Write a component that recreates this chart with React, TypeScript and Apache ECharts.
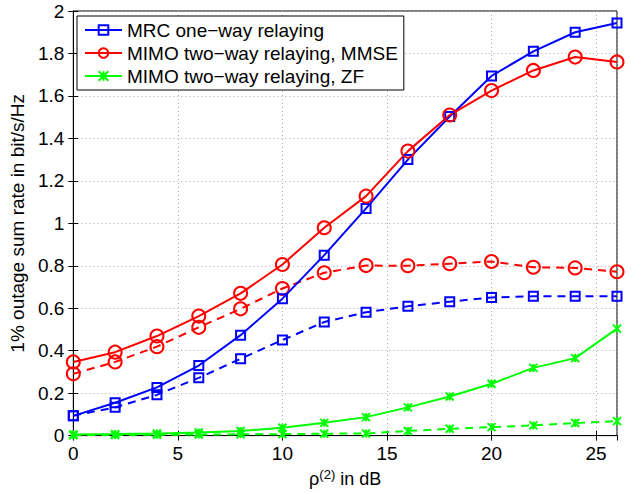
import React, { useEffect, useRef } from "react";
import * as echarts from "echarts";

const snrDb = [0, 2, 4, 6, 8, 10, 12, 14, 16, 18, 20, 22, 24, 26];
const mrcSolid = [0.093, 0.155, 0.227, 0.33, 0.473, 0.645, 0.85, 1.07, 1.3, 1.503, 1.694, 1.81, 1.9, 1.943];
const mrcDashed = [0.094, 0.133, 0.192, 0.272, 0.362, 0.45, 0.535, 0.581, 0.609, 0.631, 0.651, 0.656, 0.656, 0.656];
const mmseSolid = [0.347, 0.393, 0.469, 0.563, 0.67, 0.806, 0.979, 1.128, 1.34, 1.51, 1.625, 1.72, 1.783, 1.76];
const mmseDashed = [0.291, 0.347, 0.419, 0.51, 0.597, 0.693, 0.767, 0.801, 0.8, 0.81, 0.82, 0.793, 0.79, 0.772];
const zfSolid = [0.005, 0.007, 0.01, 0.015, 0.022, 0.037, 0.06, 0.087, 0.133, 0.184, 0.244, 0.319, 0.365, 0.504];
const zfDashed = [0.002, 0.003, 0.004, 0.005, 0.006, 0.007, 0.009, 0.01, 0.022, 0.032, 0.04, 0.048, 0.059, 0.068];
const legendNames = [
  "MRC one\u2212way relaying",
  "MIMO two\u2212way relaying, MMSE",
  "MIMO two\u2212way relaying, ZF",
];

const FONT = "'Liberation Sans', Arial, Helvetica, sans-serif";
const BLUE = "#0000ff";
const RED = "#ff0000";
const GREEN = "#00ff00";
const X_SYMBOL = "path://M0,0L10,10M10,0L0,10M5,0L5,10";

function pairs(xs: number[], ys: number[]) {
  return xs.map((x, i) => [x, ys[i]]);
}

function makeSeries(name: string, data: number[], color: string, symbol: string, size: number, dashed: boolean) {
  return {
    name,
    type: "line",
    data: pairs(snrDb, data),
    symbol,
    symbolSize: size,
    showSymbol: true,
    lineStyle: { color, width: 2, type: dashed ? [8, 6] : "solid" },
    itemStyle: { color: "rgba(0,0,0,0)", borderColor: color, borderWidth: 2 },
    emphasis: { disabled: true },
    z: dashed ? 2 : 3,
  };
}

export default function App() {
  const ref = useRef<HTMLDivElement>(null);
  useEffect(() => {
    if (!ref.current) return;
    const chart = echarts.init(ref.current, undefined, { renderer: "svg" });
    const axisLine = { show: true, lineStyle: { color: "#000", width: 1 } };
    const tick = { show: true, inside: true, length: 5, lineStyle: { color: "#000" } };
    chart.setOption({
      animation: false,
      backgroundColor: "#fff",
      textStyle: { fontFamily: FONT },
      grid: { left: 70, right: 15, top: 11, bottom: 51, show: true, borderColor: "#000", borderWidth: 1 },
      legend: {
        data: legendNames,
        orient: "vertical",
        left: 77,
        top: 16,
        backgroundColor: "#fff",
        borderColor: "#000",
        borderWidth: 1,
        borderRadius: 0,
        padding: [3, 6, 3, 7],
        itemWidth: 37,
        itemHeight: 12,
        itemGap: 1,
        textStyle: { fontFamily: FONT, fontSize: 19, color: "#000", lineHeight: 22 },
        selectedMode: false,
      },
      xAxis: [
        {
          type: "value",
          min: 0,
          max: 26,
          interval: 5,
          position: "bottom",
          axisLine,
          axisTick: tick,
          axisLabel: { fontSize: 19, color: "#000", margin: 8, fontFamily: FONT, showMaxLabel: false },
          splitLine: { show: true, lineStyle: { color: "#aaa", type: [1, 3], width: 1 } },
          name: "{a|\u03c1}{s|(2)}{a| in dB}",
          nameLocation: "middle",
          nameGap: 30,
          nameTextStyle: {
            rich: {
              a: { fontSize: 18, fontFamily: FONT, color: "#000" },
              s: { fontSize: 13, fontFamily: FONT, color: "#000", verticalAlign: "bottom", padding: [0, 0, 10, 0] },
            },
          },
        },
        {
          type: "value",
          min: 0,
          max: 26,
          interval: 5,
          position: "top",
          axisLine,
          axisTick: tick,
          axisLabel: { show: false },
          splitLine: { show: false },
        },
      ],
      yAxis: [
        {
          type: "value",
          min: 0,
          max: 2,
          interval: 0.2,
          position: "left",
          axisLine,
          axisTick: tick,
          axisLabel: {
            fontSize: 19,
            color: "#000",
            margin: 9,
            fontFamily: FONT,
            formatter: (v: number) => String(Math.round(v * 10) / 10),
          },
          splitLine: { show: true, lineStyle: { color: "#aaa", type: [1, 3], width: 1 } },
          name: "1% outage sum rate in bit/s/Hz",
          nameLocation: "middle",
          nameGap: 36,
          nameTextStyle: { fontSize: 19, color: "#000", fontFamily: FONT },
        },
        {
          type: "value",
          min: 0,
          max: 2,
          interval: 0.2,
          position: "right",
          axisLine,
          axisTick: tick,
          axisLabel: { show: false },
          splitLine: { show: false },
        },
      ],
      series: [
        makeSeries(legendNames[0], mrcSolid, BLUE, "rect", 9, false),
        makeSeries(legendNames[1], mmseSolid, RED, "circle", 13, false),
        makeSeries(legendNames[2], zfSolid, GREEN, X_SYMBOL, 8, false),
        makeSeries("MRC dashed", mrcDashed, BLUE, "rect", 9, true),
        makeSeries("MMSE dashed", mmseDashed, RED, "circle", 13, true),
        makeSeries("ZF dashed", zfDashed, GREEN, X_SYMBOL, 8, true),
      ],
    });
    return () => chart.dispose();
  }, []);
  return <div ref={ref} style={{ width: 632, height: 493, position: "absolute", left: 0, top: 0 }} />;
}
